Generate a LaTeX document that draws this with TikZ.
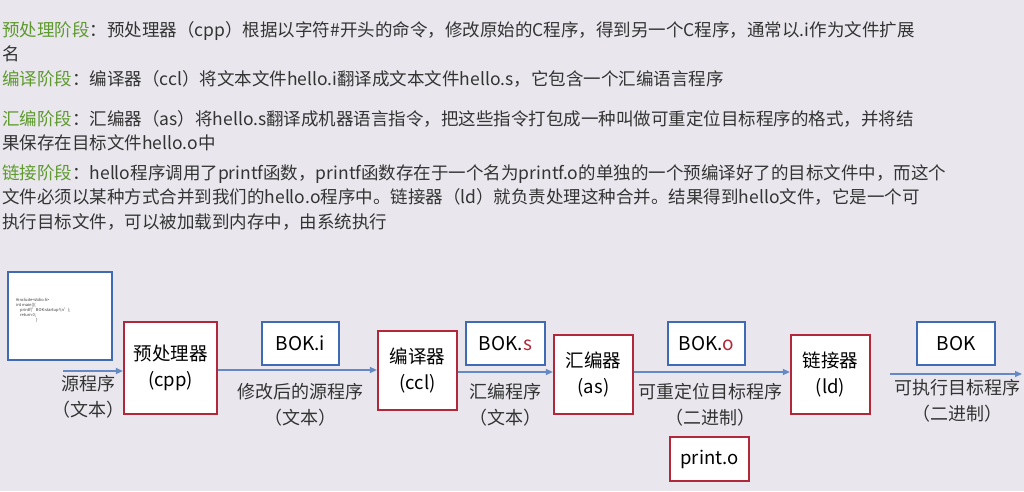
\documentclass[tikz,border=0pt]{standalone}
\usepackage{fontspec}
\setmainfont{Noto Sans CJK SC}
\usetikzlibrary{arrows.meta}
\definecolor{bg}{HTML}{E9E7ED}
\definecolor{lab}{HTML}{5E9A2E}
\definecolor{txt}{HTML}{333333}
\definecolor{rb}{HTML}{B0283A}
\definecolor{bb}{HTML}{3E6BB4}
\tikzset{
  para/.style={anchor=north west,align=left,inner sep=0pt,font=\fontsize{17.5}{24.5}\selectfont,text=txt},
  proc/.style={draw=rb,line width=2.2pt,fill=white,font=\fontsize{18.5}{26}\selectfont,align=center,inner sep=0pt},
  file/.style={draw=bb,line width=2pt,fill=white,font=\fontsize{19}{20}\selectfont,inner sep=0pt},
  flow/.style={draw=bb!80,line width=1.3pt,-{Triangle[length=7pt,width=6pt]}},
  lbl/.style={font=\fontsize{18}{26}\selectfont,text=txt,align=center,inner sep=0pt}
}
\begin{document}
\begin{tikzpicture}[x=1pt,y=-1pt]
\fill[bg] (0,0) rectangle (1024,491);
\useasboundingbox (0,0) rectangle (1024,491);
\node[para] (p1) at (2,21) {\textcolor{lab}{预处理阶段}：预处理器（cpp）根据以字符\#开头的命令，修改原始的C程序，得到另一个C程序，通常以.i作为文件扩展\\名};
\node[para] (p2) at (2,70) {\textcolor{lab}{编译阶段}：编译器（ccl）将文本文件hello.i翻译成文本文件hello.s，它包含一个汇编语言程序};
\node[para] (p3) at (2,110) {\textcolor{lab}{汇编阶段}：汇编器（as）将hello.s翻译成机器语言指令，把这些指令打包成一种叫做可重定位目标程序的格式，并将结\\果保存在目标文件hello.o中};
\node[para] (p4) at (2,164) {\textcolor{lab}{链接阶段}：hello程序调用了printf函数，printf函数存在于一个名为printf.o的单独的一个预编译好了的目标文件中，而这个\\文件必须以某种方式合并到我们的hello.o程序中。链接器（ld）就负责处理这种合并。结果得到hello文件，它是一个可\\执行目标文件，可以被加载到内存中，由系统执行};

\node[file,minimum width=104pt,minimum height=88pt] (src) at (60,316) {};
\node[anchor=north west,align=left,inner sep=0pt,font=\fontsize{4}{5}\selectfont,text=txt] (code) at (16,298) {\#include<stdio.h>\\int main()\{\\\quad printf("BOK:startup!\textbackslash n");\\\quad return 0;\\\qquad\qquad\quad \}};
\coordinate (s0) at (63,371);

\node[proc,minimum width=93pt,minimum height=92pt] (cpp) at (170.5,368) {预处理器\\(cpp)};
\node[proc,minimum width=79pt,minimum height=79pt] (ccl) at (417.5,370.5) {编译器\\(ccl)};
\node[proc,minimum width=79pt,minimum height=79pt] (as) at (593.5,374.5) {汇编器\\(as)};
\node[proc,minimum width=79pt,minimum height=79pt] (ld) at (830.5,374.5) {链接器\\(ld)};
\node[proc,minimum width=79pt,minimum height=44pt] (pro) at (709.5,459) {print.o};
\coordinate (e) at (1022,374);
\coordinate (e0) at (890,374);

\node[file,minimum width=77pt,minimum height=43pt] (fi) at (300.5,343.5) {BOK.i};
\node[file,minimum width=79pt,minimum height=43pt] (fs) at (505.5,343.5) {BOK.\textcolor{rb}{s}};
\node[file,minimum width=77pt,minimum height=43pt] (fo) at (706.5,343.5) {BOK.\textcolor{rb}{o}};
\node[file,minimum width=78pt,minimum height=43pt] (fb) at (956,343.5) {BOK};

\draw[flow] (s0) -- (s0 -| cpp.west);
\draw[flow] (cpp.east |- 0,370) -- (ccl.west |- 0,370);
\draw[flow] (ccl.east |- 0,372) -- (as.west |- 0,372);
\draw[flow] (as.east |- 0,372) -- (ld.west |- 0,372);
\draw[flow] (e0) -- (e);

\node[lbl] (c1) at (88,397) {源程序\\（文本）};
\node[lbl] (c2) at (300,405) {修改后的源程序\\（文本）};
\node[lbl] (c3) at (505,405) {汇编程序\\（文本）};
\node[lbl] (c4) at (710,405) {可重定位目标程序\\（二进制）};
\node[lbl] (c5) at (957,401) {可执行目标程序\\（二进制）};
\end{tikzpicture}
\end{document}
